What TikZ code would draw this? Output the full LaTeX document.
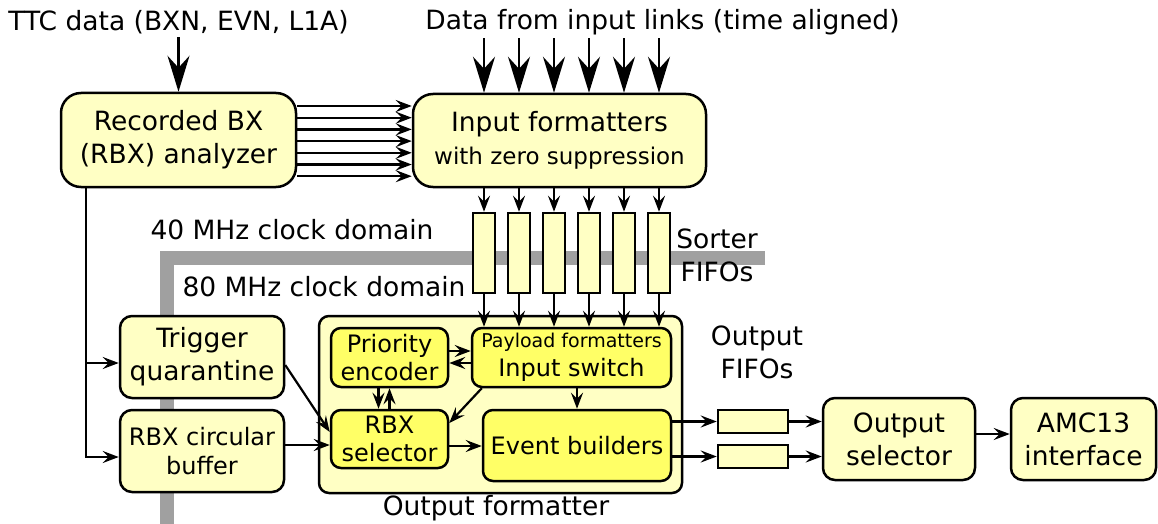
\documentclass[tikz,border=0pt]{standalone}
\usepackage{fontspec}
\setmainfont{DejaVu Sans}
\usetikzlibrary{arrows.meta}

\definecolor{paleyellow}{RGB}{255,255,196}
\definecolor{brightyellow}{RGB}{255,255,102}
\definecolor{lanegray}{RGB}{160,160,160}

\tikzset{
  block/.style={draw,line width=2.5pt,fill=paleyellow,rounded corners=12pt,align=center,inner sep=0pt},
  subblock/.style={block,fill=brightyellow,rounded corners=10pt},
  fifo/.style={draw,line width=2.5pt,fill=paleyellow,inner sep=0pt},
  wire/.style={line width=2.2pt,-{Stealth[length=16pt,width=12pt,inset=6pt]}},
  bigwire/.style={line width=2.2pt,-{Stealth[length=36pt,width=22pt,inset=12pt]}},
}

\begin{document}
\begin{tikzpicture}[x=1pt,y=-1pt]
    \providecommand{\bigfont}{\fontsize{26.5}{33}\selectfont}
    \providecommand{\midfont}{\fontsize{24}{28.5}\selectfont}
    \providecommand{\smallfont}{\fontsize{19}{23}\selectfont}
    \useasboundingbox (0,0) rectangle (1158,524);
    % clock domain boundary
    \draw[line width=14pt,lanegray] (765,258) -- (160,258) (167,251) -- (167,524);
    \node[font=\bigfont] (ttc) at (178.5,22) {TTC data (BXN, EVN, L1A)};
    \node[font=\bigfont] (links) at (662.5,22) {Data from input links (time aligned)};
    \node[font=\bigfont] (dom40) at (292,230) {40 MHz clock domain};
    \node[font=\bigfont] (dom80) at (324,287) {80 MHz clock domain};
    \node[font=\bigfont,align=center] (sortlbl) at (717,255) {Sorter\\FIFOs};
    \node[font=\bigfont,align=center] (ofifolbl) at (757,352) {Output\\FIFOs};
    \node[block,rounded corners=20pt,font=\bigfont,minimum width=235pt,minimum height=94pt] (rbxa) at (178.5,140) {Recorded BX\\(RBX) analyzer};
    \node[block,rounded corners=20pt,font=\bigfont,minimum width=293pt,minimum height=93pt] (inf) at (559.5,140.5) {Input formatters\\{\fontsize{23}{27}\selectfont with zero suppression}};
    \node[block,font=\bigfont,minimum width=164pt,minimum height=82pt] (tq) at (202,357) {Trigger\\quarantine};
    \node[block,font=\midfont,minimum width=164pt,minimum height=82pt] (rcb) at (202,451) {RBX circular\\buffer};
    \node[block,rounded corners=10pt,minimum width=363pt,minimum height=177pt] (of) at (500.5,404.5) {};
    \node[font=\bigfont] (oflbl) at (496,508) {Output formatter};
    \node[subblock,font=\midfont,minimum width=117pt,minimum height=59pt] (pe) at (389.5,357.5) {Priority\\encoder};
    \node[subblock,font=\midfont,minimum width=199pt,minimum height=59pt] (isw) at (571.5,357.5) {{\smallfont Payload formatters}\\Input switch};
    \node[subblock,font=\midfont,minimum width=117pt,minimum height=58pt] (rsel) at (389.5,439) {RBX\\selector};
    \node[subblock,font=\midfont,minimum width=188pt,minimum height=71pt] (evb) at (577,445.5) {Event builders};
    \node[fifo,minimum width=70pt,minimum height=23pt] (of1) at (753,421.5) {};
    \node[fifo,minimum width=70pt,minimum height=23pt] (of2) at (753,456.5) {};
    \node[block,font=\bigfont,minimum width=152pt,minimum height=82pt] (osel) at (899,439) {Output\\selector};
    \node[block,font=\bigfont,minimum width=145pt,minimum height=82pt] (amc) at (1083.5,439) {AMC13\\interface};
    % sorter FIFOs and input links
    \foreach \x [count=\i] in {484,519,554,589,624,659} {
        \node[fifo,minimum width=22pt,minimum height=80pt] (sf\i) at (\x,253) {};
        \draw[bigwire] (links.south -| sf\i) -- (inf.north -| sf\i);
        \draw[wire] (inf.south -| sf\i) -- (sf\i.north);
        \draw[wire] (sf\i.south) -- (isw.north -| sf\i);
    }
    \draw[bigwire] (ttc.south) -- (rbxa.north);
    \foreach \k in {0,...,6} {
        \pgfmathsetmacro{\yy}{106+11.7*\k}
        \coordinate (lk\k) at (0,\yy);
        \draw[wire] (rbxa.east |- lk\k) -- (inf.west |- lk\k);
    }
    \coordinate (tap) at (86,0);
    \draw[wire] (rbxa.south -| tap) |- ([yshift=-6pt]tq.west);
    \draw[wire] (rbxa.south -| tap) |- ([yshift=-6pt]rcb.west);
    \draw[wire] ([yshift=-8pt]tq.east) -- ([yshift=7pt]rsel.west);
    \draw[wire] ([yshift=6pt]rcb.east) -- ([yshift=6pt]rcb.east -| rsel.west);
    \draw[wire] ([yshift=6.5pt]pe.east) -- ([yshift=6.5pt]pe.east -| isw.west);
    \draw[wire] ([yshift=-5.5pt]isw.west) -- ([yshift=-5.5pt]isw.west -| pe.east);
    \draw[wire] ([xshift=-11pt]pe.south) -- ([xshift=-11pt]pe.south |- rsel.north);
    \draw[wire] (rsel.north) -- (pe.south);
    \draw[wire] ([xshift=11pt]isw.south west) -- ([yshift=16pt]rsel.east);
    \draw[wire] (isw.south -| evb.north) -- (evb.north);
    \draw[wire] ([yshift=-7pt]rsel.east) -- ([yshift=-7pt]rsel.east -| evb.west);
    \draw[wire] (evb.east |- of1) -- (of1.west);
    \draw[wire] (evb.east |- of2) -- (of2.west);
    \draw[wire] (of1.east) -- (of1.east -| osel.west);
    \draw[wire] (of2.east) -- (of2.east -| osel.west);
    \draw[wire] ([yshift=5pt]osel.east) -- ([yshift=5pt]osel.east -| amc.west);
\end{tikzpicture}
\end{document}
